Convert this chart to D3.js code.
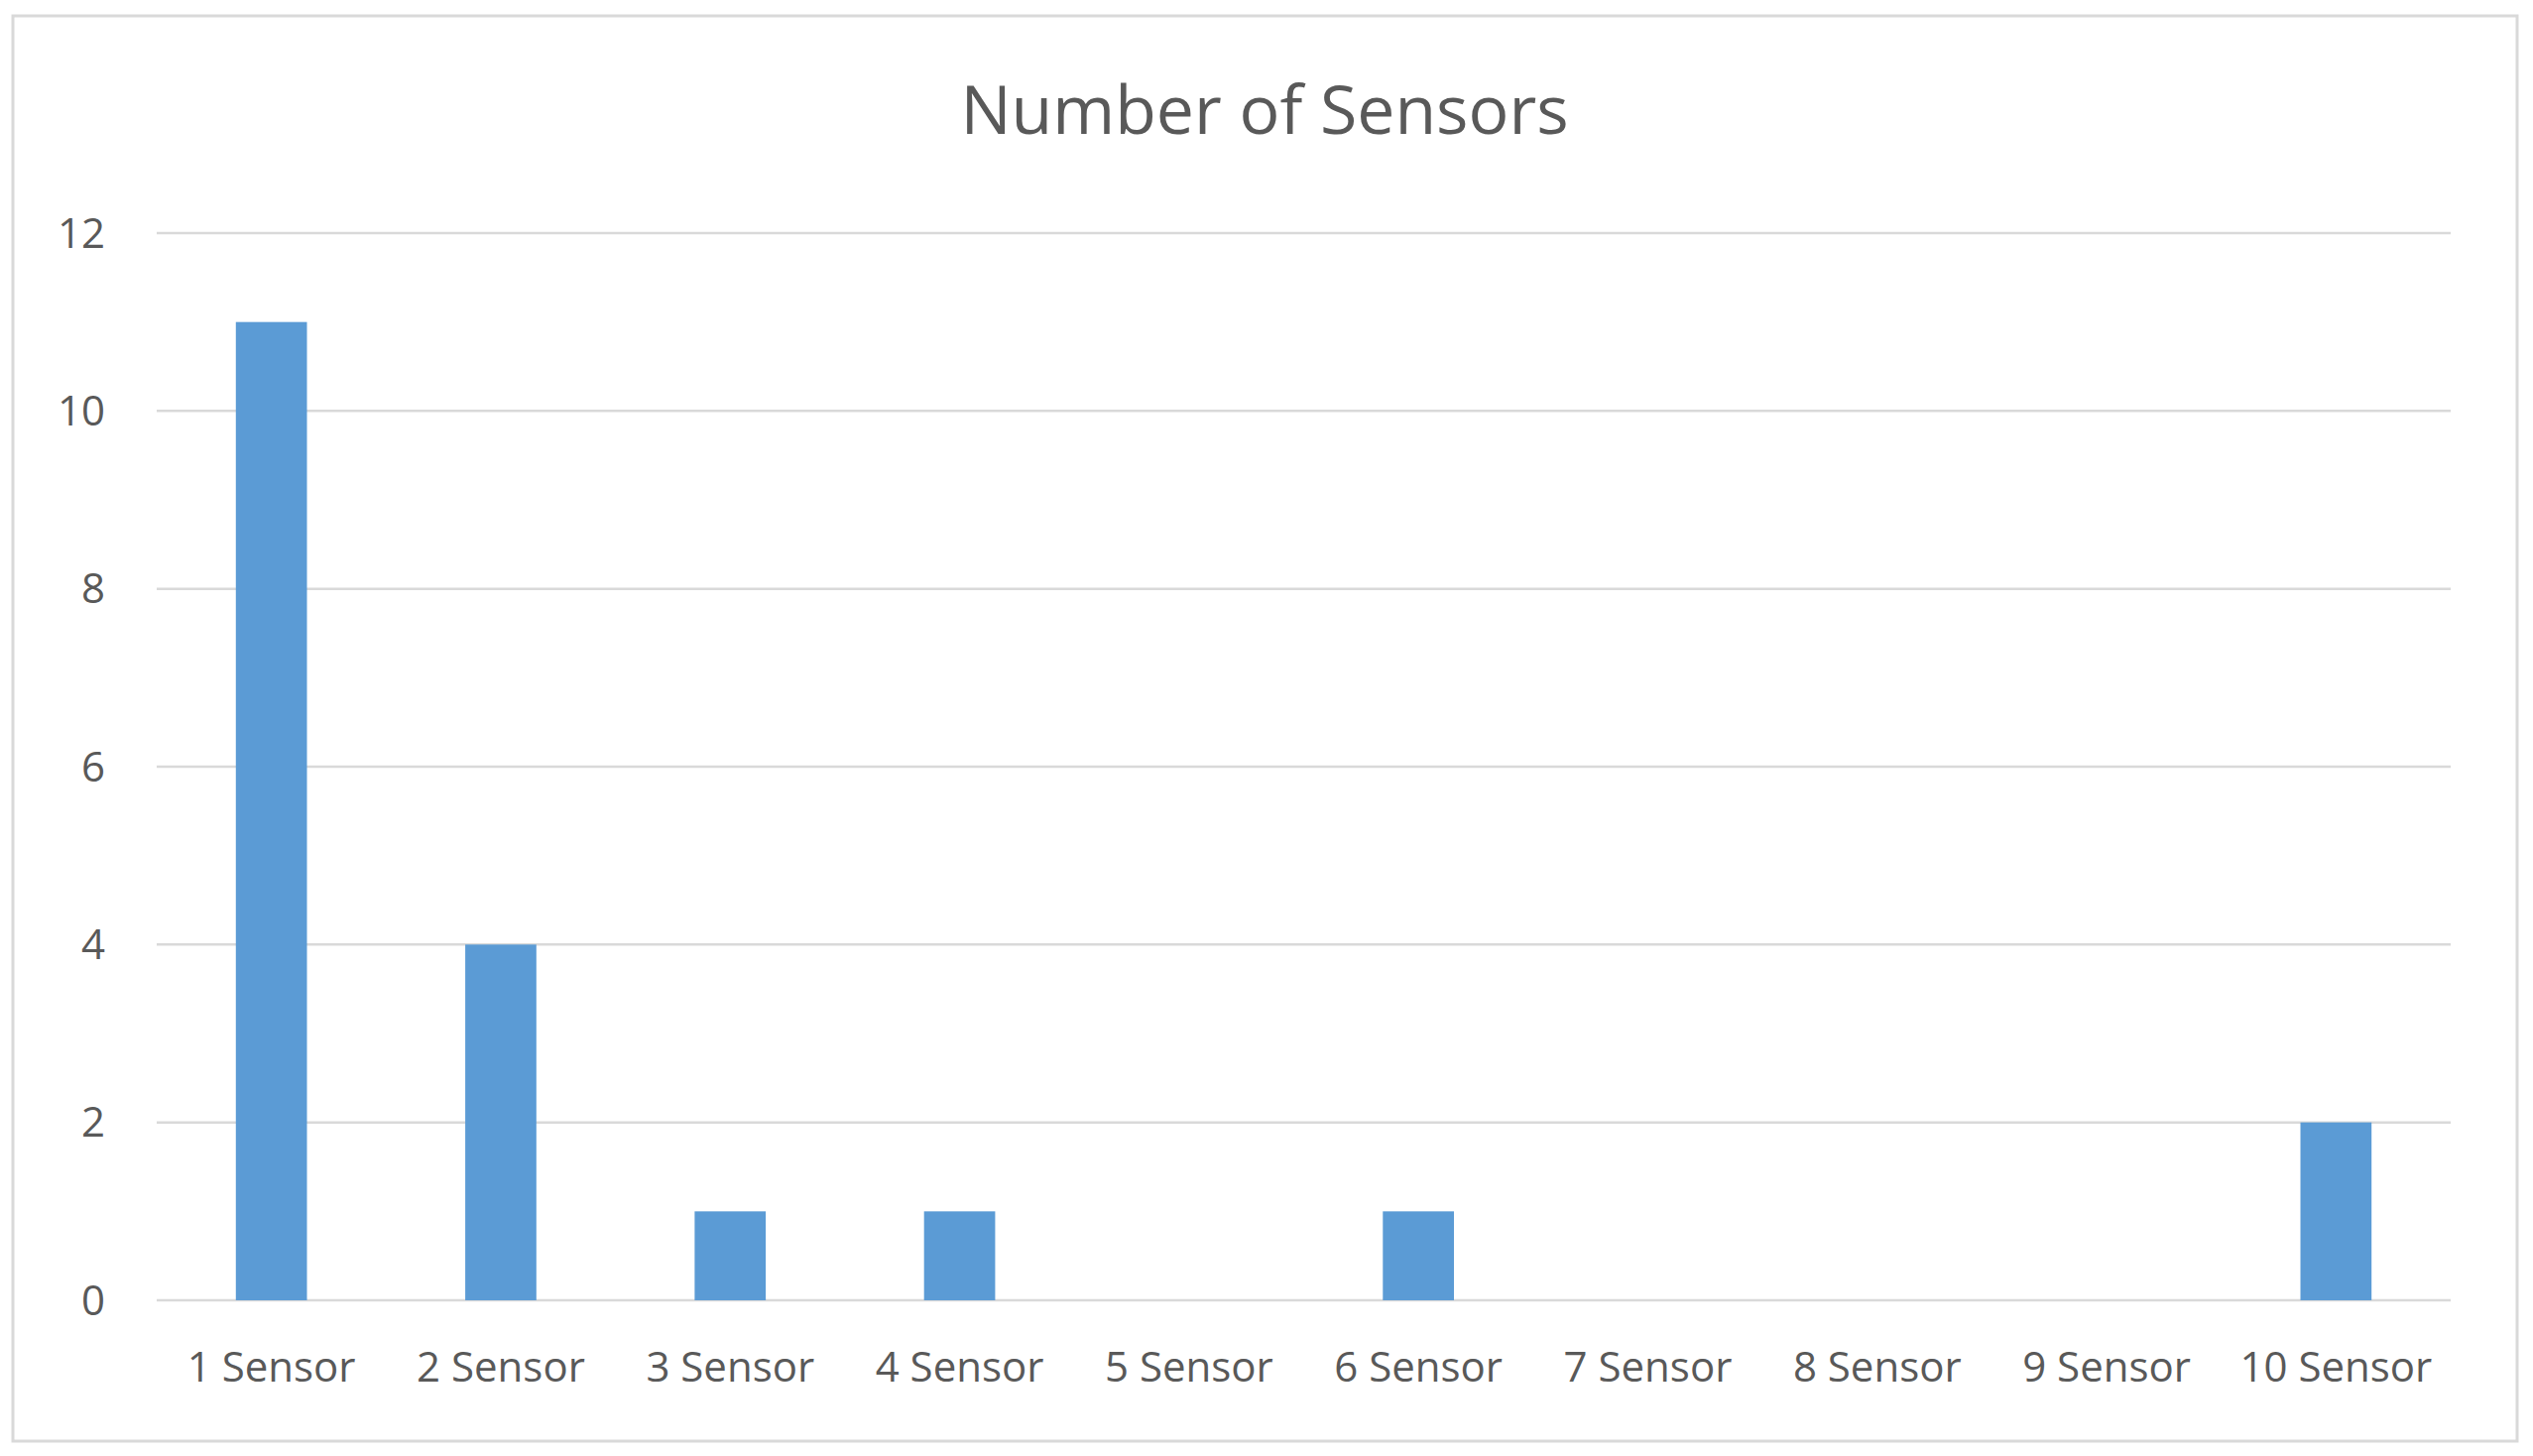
<!DOCTYPE html>
<html><head><meta charset="utf-8">
<script src="https://cdn.jsdelivr.net/npm/d3@7"></script>
<style>body{margin:0;background:#fff}text{font-family:"Open Sans","Liberation Sans",sans-serif;fill:#595959}</style>
</head><body>
<svg id="c" width="2554" height="1468"></svg>
<script>
const categories=["1 Sensor","2 Sensor","3 Sensor","4 Sensor","5 Sensor","6 Sensor","7 Sensor","8 Sensor","9 Sensor","10 Sensor"];
const values=[11,4,1,1,0,1,0,0,0,2];
const yTicks=[0,2,4,6,8,10,12];
const title="Number of Sensors";
const svg=d3.select("#c");
svg.append("rect").attr("x",13).attr("y",16).attr("width",2525).attr("height",1437).attr("fill","#fff").attr("stroke","#d9d9d9").attr("stroke-width",3);
const m={l:158,r:2471,t:235,b:1311};
const x=d3.scaleBand().domain(categories).range([m.l,m.r]).paddingInner(0.69).paddingOuter(0.345);
const y=d3.scaleLinear().domain([0,12]).range([m.b,m.t]);
svg.append("g").selectAll("line").data(yTicks).join("line").attr("x1",m.l).attr("x2",m.r).attr("y1",d=>y(d)).attr("y2",d=>y(d)).attr("stroke","#d9d9d9").attr("stroke-width",2.5);
svg.append("g").selectAll("text").data(yTicks).join("text").attr("x",106).attr("y",d=>y(d)).attr("dy","0.35em").attr("text-anchor","end").attr("font-size",42).text(d=>d);
svg.append("g").selectAll("rect").data(values).join("rect").attr("x",(d,i)=>x(categories[i])).attr("width",x.bandwidth()).attr("y",d=>y(d)).attr("height",d=>y(0)-y(d)).attr("fill","#5b9bd5");
svg.append("g").selectAll("text").data(categories).join("text").attr("x",d=>x(d)+x.bandwidth()/2).attr("y",1393).attr("text-anchor","middle").attr("font-size",42).text(d=>d);
svg.append("text").attr("x",1275).attr("y",135).attr("text-anchor","middle").attr("font-size",68).text(title);
</script></body></html>
